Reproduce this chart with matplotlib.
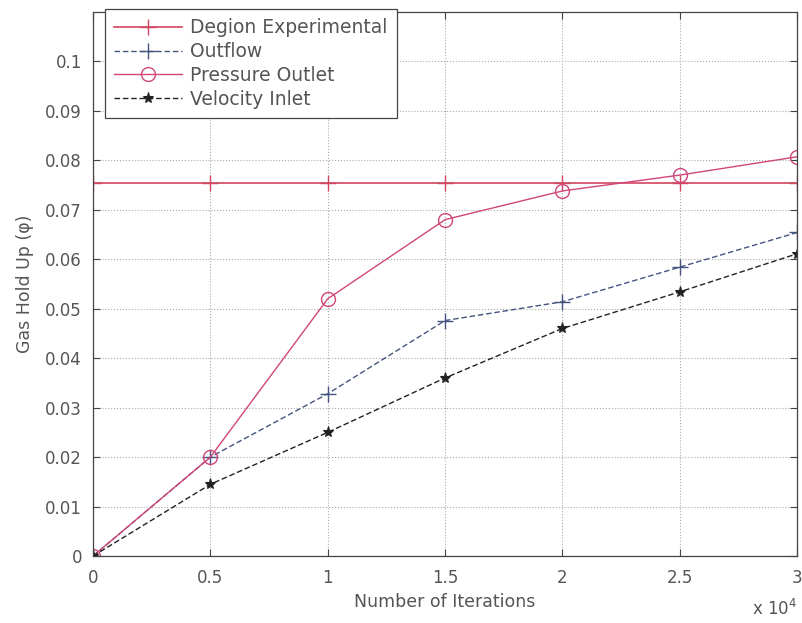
import matplotlib
matplotlib.use("Agg")
import matplotlib.pyplot as plt
import numpy as np

plt.rcParams['font.family'] = ['DejaVu Sans']

iterations = [0, 5000, 10000, 15000, 20000, 25000, 30000]
experimental = [0.0755, 0.0755, 0.0755, 0.0755, 0.0755, 0.0755, 0.0755]
outflow = [0.0, 0.020, 0.0328, 0.0476, 0.0514, 0.0584, 0.0654]
pressure_outlet = [0.0, 0.020, 0.052, 0.068, 0.0738, 0.077, 0.0807]
velocity_inlet = [0.0, 0.0145, 0.025, 0.036, 0.046, 0.0534, 0.0611]

xticks = [0, 5000, 10000, 15000, 20000, 25000, 30000]
xticklabels = ["0", "0.5", "1", "1.5", "2", "2.5", "3"]
yticks = [0, 0.01, 0.02, 0.03, 0.04, 0.05, 0.06, 0.07, 0.08, 0.09, 0.1]
yticklabels = ["0", "0.01", "0.02", "0.03", "0.04", "0.05", "0.06", "0.07", "0.08", "0.09", "0.1"]

txt = "#555555"

fig = plt.figure(figsize=(8.02, 6.23), dpi=100)
ax = fig.add_axes([0.116, 0.1075, 0.878, 0.8735])

ax.plot(iterations, experimental, color="#d2455f", lw=1.2, marker="+", ms=11, mew=1,
        label="Degion Experimental")
ax.plot(iterations, outflow, color="#46557f", lw=1.0, ls=(0, (4, 2)), marker="+", ms=11, mew=1,
        label="Outflow")
ax.plot(iterations, pressure_outlet, color="#d0467a", lw=1.0, marker="o", ms=10, mfc="none", mew=1,
        label="Pressure Outlet")
ax.plot(iterations, velocity_inlet, color="#222222", lw=1.0, ls=(0, (4, 2)), marker="*", ms=8, mew=0.8,
        label="Velocity Inlet")

ax.set_xlim(0, 30000)
ax.set_ylim(0, 0.11)
ax.set_xticks(xticks)
ax.set_xticklabels(xticklabels)
ax.set_yticks(yticks)
ax.set_yticklabels(yticklabels)
ax.tick_params(direction="in", top=True, right=True, labelsize=12, colors="#444444",
               labelcolor=txt, length=5)
ax.tick_params(axis="x", pad=9)
ax.tick_params(axis="y", pad=8)
ax.grid(True, ls=":", color="#aaaaaa", lw=0.8)
for s in ax.spines.values():
    s.set_color("#444444")
    s.set_linewidth(0.9)

ax.set_xlabel("Number of Iterations", fontsize=12.5, color=txt, labelpad=5)
ax.set_ylabel("Gas Hold Up (\u03c6)", fontsize=12.5, color=txt, labelpad=8)
ax.text(1.0, -0.098, "x 10$^4$", transform=ax.transAxes, fontsize=12, color=txt,
        ha="right", va="center")

leg = ax.legend(loc="upper left", bbox_to_anchor=(0.017, 1.005), fontsize=13.5, numpoints=1,
                handlelength=3.6, fancybox=False, framealpha=1, edgecolor="#444444",
                borderaxespad=0.0, labelspacing=0.25, handletextpad=0.45, borderpad=0.5)
leg.get_frame().set_linewidth(0.9)
for t in leg.get_texts():
    t.set_color(txt)

fig.savefig("out.png", dpi=100, facecolor="white")
